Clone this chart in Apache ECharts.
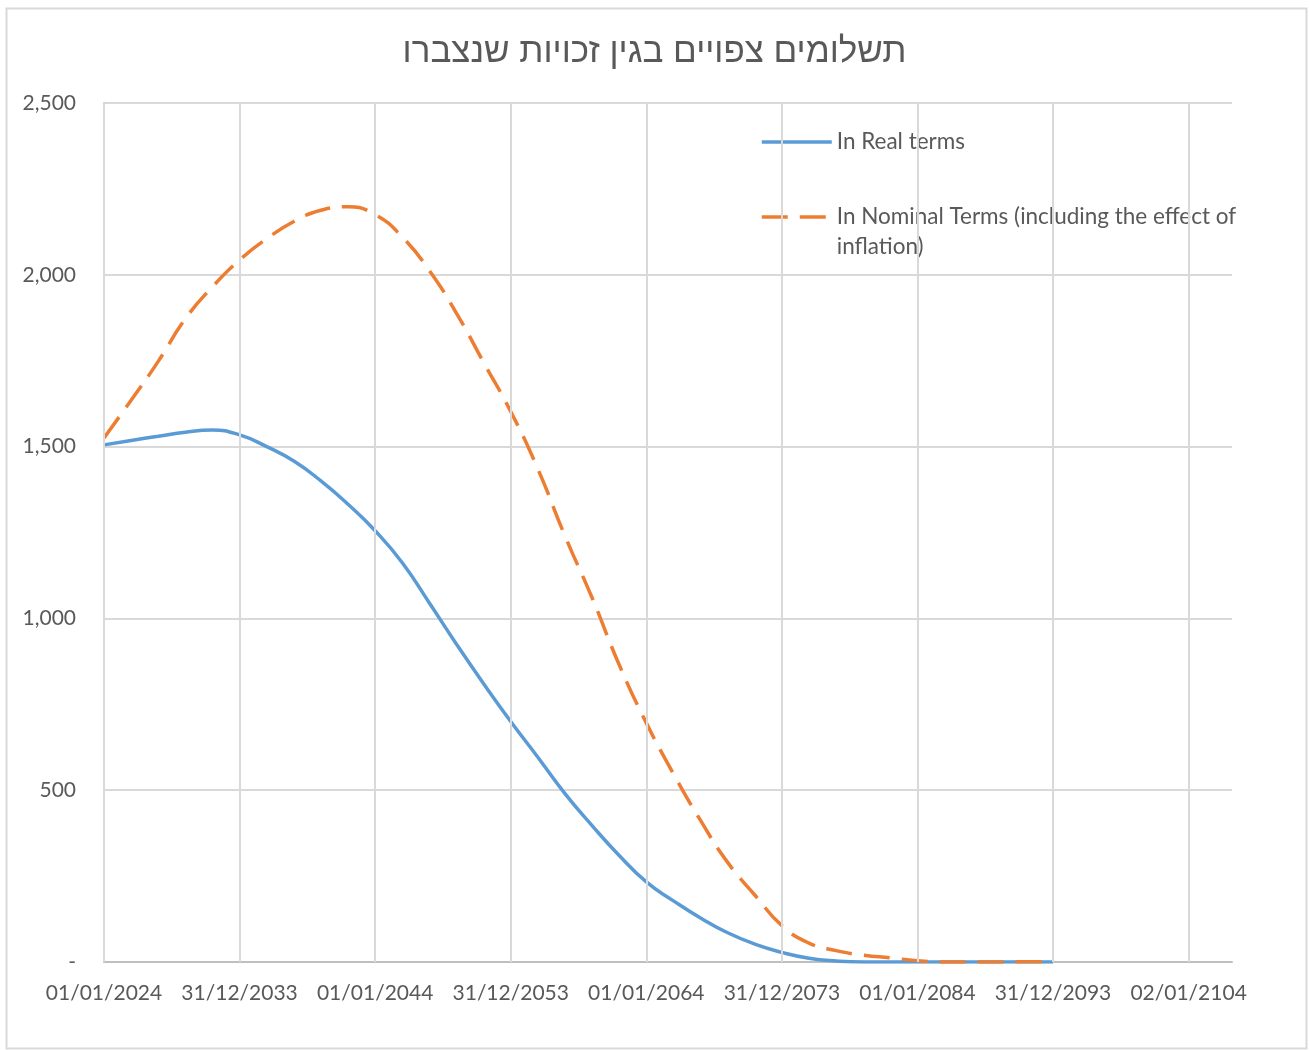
<!DOCTYPE html>
<html>
<head>
<meta charset="utf-8">
<script src="https://cdn.jsdelivr.net/npm/echarts@6/dist/echarts.min.js"></script>
<style>
html,body{margin:0;padding:0;background:#fff;}
#chart{width:1309px;height:1050px;}
</style>
</head>
<body>
<div id="chart"></div>
<script>
const titleText = 'תשלומים צפויים בגין זכויות שנצברו';
const seriesNames = ['In Real terms', 'In Nominal Terms (including the effect of inflation)'];
const nominalLegendLines = ['In Nominal Terms (including the effect of', 'inflation)'];
const xTickLabels = ['01/01/2024','31/12/2033','01/01/2044','31/12/2053','01/01/2064','31/12/2073','01/01/2084','31/12/2093','02/01/2104'];
const xStart = 2024, xStep = 10, xEnd = 2107.2;
const years = [2024,2026,2028,2030,2032,2034,2036,2038,2040,2042,2044,2046,2048,2050,2052,2054,2056,2058,2060,2062,2064,2066,2068,2070,2072,2074,2076,2078,2080,2082,2084,2086,2088,2090,2092,2094];
const realValues = [1505,1518,1530,1542,1548,1534,1500,1458,1400,1332,1255,1162,1045,925,810,700,596,490,397,310,233,178,128,85,52,28,11,3,0,0,0,0,0,0,0,0];
const nominalValues = [1525,1635,1748,1872,1965,2043,2105,2155,2188,2198,2175,2110,2012,1888,1745,1602,1435,1240,1060,865,696,548,412,290,195,106,55,33,20,12,4,0,0,0,1,0];
const yTicks = {min:0, max:2500, interval:500};

const gray = '#595959';
const gridColor = '#D9D9D9';
const font = 'Lato, "Open Sans", sans-serif';

const chart = echarts.init(document.getElementById('chart'));
chart.setOption({
  backgroundColor: '#fff',
  animation: false,
  title: {
    text: titleText,
    left: 'center',
    top: 30,
    textStyle: {fontSize: 35, fontWeight: 'normal', color: gray, fontFamily: '"Liberation Sans", "DejaVu Sans", sans-serif'}
  },
  graphic: [{
    type: 'rect', left: 4, top: 6, shape: {width: 1300, height: 1040},
    style: {fill: 'none', stroke: gridColor, lineWidth: 2}, silent: true, z: -1
  }],
  legend: [{
    data: [seriesNames[0]],
    left: 760, top: 127, padding: 0,
    itemWidth: 70, itemHeight: 14, itemGap: 0,
    itemStyle: {opacity: 0},
    lineStyle: {width: 3.5},
    textStyle: {fontSize: 22.5, color: gray, fontFamily: font, lineHeight: 30}
  }, {
    data: [seriesNames[1]],
    left: 760, top: 172, padding: 0,
    itemWidth: 70, itemHeight: 14, itemGap: 0,
    itemStyle: {opacity: 0},
    lineStyle: {width: 3.5},
    formatter: function () { return '\n' + nominalLegendLines.join('\n'); },
    textStyle: {fontSize: 22.5, color: gray, fontFamily: font, lineHeight: 30}
  }],
  grid: {left: 104, right: 77, top: 103, bottom: 88, containLabel: false},
  xAxis: {
    type: 'value', min: xStart, max: xEnd, interval: xStep,
    axisLine: {show: true, lineStyle: {color: '#BFBFBF', width: 2}},
    axisTick: {show: false},
    splitLine: {show: false},
    axisLabel: {
      showMaxLabel: false, margin: 21,
      fontSize: 21, color: gray, fontFamily: font,
      formatter: function (v) {
        const i = (v - xStart) / xStep;
        const r = Math.round(i);
        return Math.abs(i - r) < 1e-6 && xTickLabels[r] ? xTickLabels[r] : '';
      }
    }
  },
  yAxis: {
    type: 'value', min: yTicks.min, max: yTicks.max, interval: yTicks.interval,
    axisLine: {show: true, lineStyle: {color: '#C8C8C8', width: 2}},
    axisTick: {show: false},
    splitLine: {show: true, lineStyle: {color: gridColor, width: 2}},
    axisLabel: {
      margin: 28, fontSize: 21, color: gray, fontFamily: font,
      formatter: function (v) { return v === 0 ? '-' : v.toLocaleString('en-US'); }
    }
  },
  series: [{
    name: 'grid-x', type: 'line', data: [], z: 1, silent: true,
    markLine: {
      silent: true, symbol: 'none', label: {show: false},
      lineStyle: {color: gridColor, width: 2, type: 'solid'},
      data: xTickLabels.map((_, i) => ({xAxis: xStart + xStep * i}))
    }
  }, {
    name: seriesNames[0], type: 'line', z: 3,
    data: years.map((y, i) => [y, realValues[i]]),
    smooth: 0.5, showSymbol: false, symbol: 'none',
    lineStyle: {color: '#5B9BD5', width: 3.5},
    itemStyle: {color: '#5B9BD5'}
  }, {
    name: seriesNames[1], type: 'line', z: 4,
    data: years.map((y, i) => [y, nominalValues[i]]),
    smooth: 0.5, showSymbol: false, symbol: 'none',
    lineStyle: {color: '#ED7D31', width: 3.5, type: [26, 12]},
    itemStyle: {color: '#ED7D31'}
  }]
});
</script>
</body>
</html>
